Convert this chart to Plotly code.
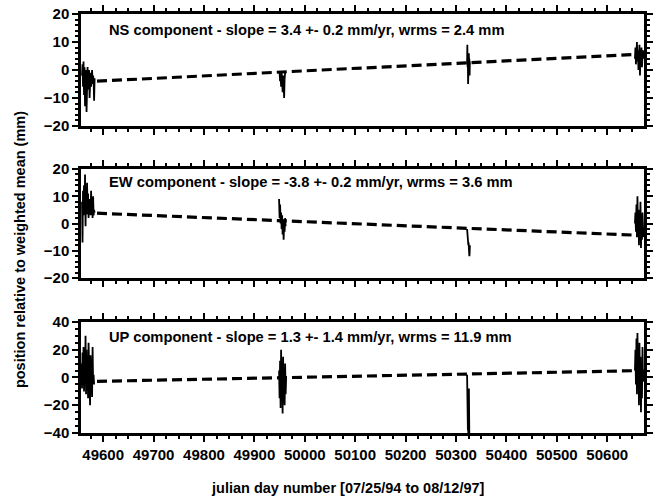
import plotly.graph_objects as go

# ---------------- data ----------------
ns_x1 = list(range(49558, 49584))
ns_y1 = [-2, 2, -6, 3, -9, 1, -13, -4, 0, -15, -3, 1, -7, -2, 0, -10, -4, -1, -6, -3, 0, -5, -2, -4, -11, -3]
ns_x2 = list(range(49950, 49962))
ns_y2 = [-1, -4, -2, -6, -1, -3, -8, -2, -5, -10, -3, -1]
ns_x3 = [50322, 50322.5, 50323, 50323.5, 50324, 50324.5, 50325, 50325.5, 50326, 50326.5, 50327, 50327.5]
ns_y3 = [2, 9, 1, 5, -5, 3, 0, 6, 2, 4, -2, 3]
ns_x4 = list(range(50655, 50673))
ns_y4 = [4, 8, 2, 6, 10, 3, 7, 0, 5, 9, -2, 6, 3, 8, 1, 5, 7, 4]

ew_x1 = list(range(49558, 49584))
ew_y1 = [8, -7, 12, 5, 14, 3, 18, -1, 10, 4, 15, 6, 11, 2, 9, 5, 7, 3, 12, 4, 6, 2, 10, 3, 5, 4]
ew_x2 = list(range(49949, 49963))
ew_y2 = [9, 2, 7, 0, 4, -2, 3, -4, 1, -6, 0, -3, 2, -1]
ew_x3 = [50322, 50322.5, 50323, 50323.5, 50324, 50324.5, 50325, 50325.5, 50326, 50326.5, 50327, 50327.5]
ew_y3 = [-2, -4, -3, -6, -5, -8, -7, -10, -9, -12, -11, -8]
ew_x4 = list(range(50655, 50673))
ew_y4 = [0, 4, -3, 7, -5, 10, -2, 5, -8, 3, -4, 8, -9, 2, -6, 4, -1, -5]

up_x1 = list(range(49557, 49583))
up_y1 = [10, -8, 18, -5, 22, -10, 15, 0, 30, -12, 20, -6, 12, -15, 25, -4, 8, -20, 16, -9, 5, -14, 22, -3, 2, -5]
up_x2 = list(range(49949, 49964))
up_y2 = [5, -15, 12, -22, 20, -10, 8, -26, 15, -18, 3, -20, 10, -12, 0]
up_x3 = [50322, 50322.4, 50322.8, 50323.2, 50323.6, 50324, 50324.4, 50324.8, 50325.2, 50325.6, 50326, 50326.4]
up_y3 = [2, -10, -25, -5, -38, -15, -42, -20, -35, -8, -30, -40]
up_x4 = list(range(50655, 50673))
up_y4 = [5, 20, -5, 28, -12, 32, 0, 18, -20, 25, -8, 15, -25, 10, -15, 22, -3, 5]

trend_x = [49558, 50672]
ns_trend = [-4.3, 5.7]
ew_trend = [4.0, -4.4]
up_trend = [-3.0, 5.0]

titles = [
    "NS component - slope = 3.4 +- 0.2 mm/yr, wrms = 2.4 mm",
    "EW component - slope = -3.8 +- 0.2 mm/yr, wrms = 3.6 mm",
    "UP component - slope = 1.3 +- 1.4 mm/yr, wrms = 11.9 mm",
]
x_ticks = [49600, 49700, 49800, 49900, 50000, 50100, 50200, 50300, 50400, 50500, 50600]
x_label = "julian day number [07/25/94 to 08/12/97]"
y_label = "position relative to weighted mean (mm)"

# ---------------- figure ----------------
FONT = "Liberation Sans"
fig = go.Figure()

def join(xs, ys):
    X, Y = [], []
    for xx, yy in zip(xs, ys):
        X += list(xx) + [None]
        Y += list(yy) + [None]
    return X, Y

panels = [
    ("x", "y", [ns_x1, ns_x2, ns_x3, ns_x4], [ns_y1, ns_y2, ns_y3, ns_y4], ns_trend),
    ("x2", "y2", [ew_x1, ew_x2, ew_x3, ew_x4], [ew_y1, ew_y2, ew_y3, ew_y4], ew_trend),
    ("x3", "y3", [up_x1, up_x2, up_x3, up_x4], [up_y1, up_y2, up_y3, up_y4], up_trend),
]
for xa, ya, xs, ys, tr in panels:
    X, Y = join(xs, ys)
    fig.add_trace(go.Scatter(x=X, y=Y, mode="lines", line=dict(color="black", width=1.8),
                             xaxis=xa, yaxis=ya, showlegend=False, connectgaps=False))
    fig.add_trace(go.Scatter(x=trend_x, y=tr, mode="lines",
                             line=dict(color="black", width=3.2, dash="10px,5px"),
                             xaxis=xa, yaxis=ya, showlegend=False))

doms = [[0.733, 1.0], [0.370, 0.630], [0.0, 0.265]]
yranges = [[-20, 20], [-20, 20], [-40, 40]]
ydt = [10, 10, 20]
yminor = [2, 2, 5]
tickfont = dict(family=FONT, size=15, color="black", weight="bold")

layout = dict(
    width=661, height=499,
    margin=dict(l=81, r=17, t=14, b=66, pad=0, autoexpand=False),
    paper_bgcolor="white", plot_bgcolor="white",
    showlegend=False,
)
for i in range(3):
    s = "" if i == 0 else str(i + 1)
    layout["xaxis" + s] = dict(
        range=[49556, 50673], anchor="y" + s, domain=[0, 1], automargin=False,
        tickvals=x_ticks, ticktext=[str(v) for v in x_ticks],
        showticklabels=(i == 2), ticks="outside", ticklen=6, tickwidth=2,
        tickcolor="black", mirror="ticks", showline=True, linecolor="black",
        linewidth=2.5, showgrid=False, zeroline=False, tickfont=tickfont,
        minor=dict(dtick=25, tick0=49500, ticks="outside", ticklen=3, tickwidth=1.5, tickcolor="black"),
        **({"matches": "x"} if i > 0 else {}),
    )
    layout["yaxis" + s] = dict(
        range=yranges[i], domain=doms[i], anchor="x" + s, automargin=False,
        dtick=ydt[i], tick0=0, ticks="outside", ticklen=6, tickwidth=2,
        tickcolor="black", mirror="ticks", showline=True, linecolor="black",
        linewidth=2.5, showgrid=False, zeroline=False, tickfont=tickfont,
        minor=dict(dtick=yminor[i], ticks="outside", ticklen=3, tickwidth=1.5, tickcolor="black"),
    )
fig.update_layout(**layout)

ann_y = [14.3, 15.2, 29.2]
for i in range(3):
    s = "" if i == 0 else str(i + 1)
    fig.add_annotation(x=49608, y=ann_y[i], xref="x" + s, yref="y" + s, text=titles[i],
                       showarrow=False, xanchor="left", yanchor="middle",
                       font=dict(family=FONT, size=14.7, color="black", weight="bold"))

fig.add_annotation(x=0.475, y=-0.131, xref="paper", yref="paper", text=x_label,
                   showarrow=False, xanchor="center", yanchor="middle",
                   font=dict(family=FONT, size=14.5, color="black", weight="bold"))
fig.add_annotation(x=-0.108, y=0.437, xref="paper", yref="paper", text=y_label,
                   showarrow=False, xanchor="center", yanchor="middle", textangle=-90,
                   font=dict(family=FONT, size=14.5, color="black", weight="bold"))

fig.write_html("out.html", config={"displayModeBar": False},
               post_script="document.body.style.margin='0';document.body.style.padding='0';")
